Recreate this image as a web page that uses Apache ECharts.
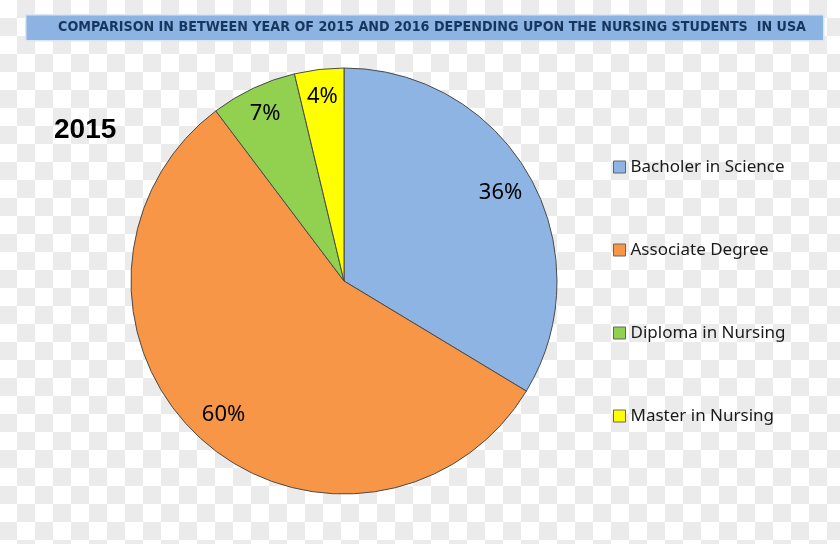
<!DOCTYPE html>
<html>
<head>
<meta charset="utf-8">
<script src="https://cdn.jsdelivr.net/npm/echarts@6/dist/echarts.min.js"></script>
<style>
html,body{margin:0;padding:0;}
body{
  width:840px;height:544px;overflow:hidden;
  background-color:#ffffff;
  background-image:
    linear-gradient(45deg,#ebebeb 25%,transparent 25%,transparent 75%,#ebebeb 75%),
    linear-gradient(45deg,#ebebeb 25%,transparent 25%,transparent 75%,#ebebeb 75%);
  background-size:36px 36px;
  background-position:-1px 0,17px 18px;
}
#chart{width:840px;height:544px;}
</style>
</head>
<body>
<div id="chart"></div>
<script>
const titleText = 'COMPARISON IN BETWEEN YEAR OF 2015 AND 2016 DEPENDING UPON THE NURSING STUDENTS  IN USA';
const yearLabel = '2015';
const categories = ['Bacholer in Science', 'Associate Degree', 'Diploma in Nursing', 'Master in Nursing'];
const values = [36, 60, 7, 4];
const colors = ['#8db4e2', '#f79646', '#92d050', '#ffff00'];

const chart = echarts.init(document.getElementById('chart'), null, {renderer: 'canvas'});
const data = categories.map((c, i) => ({name: c, value: values[i], itemStyle: {color: colors[i]}}));
const R = 213;
const center = [344, 281];

// transparent overlay series used only to position the percentage labels
function labelSeries(r0, showIdx) {
  return {
    type: 'pie',
    center: center,
    radius: [r0, R],
    startAngle: 90,
    clockwise: true,
    silent: true,
    legendHoverLink: false,
    data: data.map((d, i) => ({
      name: d.name, value: d.value,
      itemStyle: {color: 'rgba(0,0,0,0)', borderWidth: 0},
      label: {show: showIdx.indexOf(i) >= 0}
    })),
    label: {position: 'inside', formatter: p => p.value + '%',
      fontFamily: '"Noto Sans", sans-serif', fontSize: 22, color: '#000000'},
    labelLine: {show: false},
    emphasis: {disabled: true}
  };
}

chart.setOption({
  backgroundColor: 'transparent',
  animation: false,
  graphic: [
    {type: 'rect', left: 25, top: 14, shape: {width: 798, height: 26},
     style: {fill: '#8db3e2', stroke: '#dce6f2', lineWidth: 1.5}, z: 10},
    {type: 'text', x: 432, y: 27, z: 11,
     style: {text: titleText, fill: '#17365d', align: 'center', verticalAlign: 'middle',
       font: 'bold 14.2px "DejaVu Sans Condensed", sans-serif'}},
    {type: 'text', left: 54, top: 116, z: 11,
     style: {text: yearLabel, fill: '#000000', font: 'bold 28px "Liberation Sans", Arial, sans-serif'}}
  ],
  legend: {
    orient: 'vertical',
    left: 608,
    top: 152,
    itemWidth: 12,
    itemHeight: 12,
    itemGap: 63,
    icon: 'rect',
    data: categories,
    textStyle: {fontFamily: '"Noto Sans", sans-serif', fontSize: 17, color: '#1a1a1a', lineHeight: 20},
    itemStyle: {borderColor: '#666666', borderWidth: 1}
  },
  series: [
    {
      type: 'pie',
      center: center,
      radius: [0, R],
      startAngle: 90,
      clockwise: true,
      data: data,
      label: {show: false},
      labelLine: {show: false},
      itemStyle: {borderColor: '#4a4a4a', borderWidth: 1},
      emphasis: {disabled: true}
    },
    labelSeries(R * 0.66, [0, 1]),
    labelSeries(R * 0.71, [2, 3])
  ]
});
</script>
</body>
</html>
